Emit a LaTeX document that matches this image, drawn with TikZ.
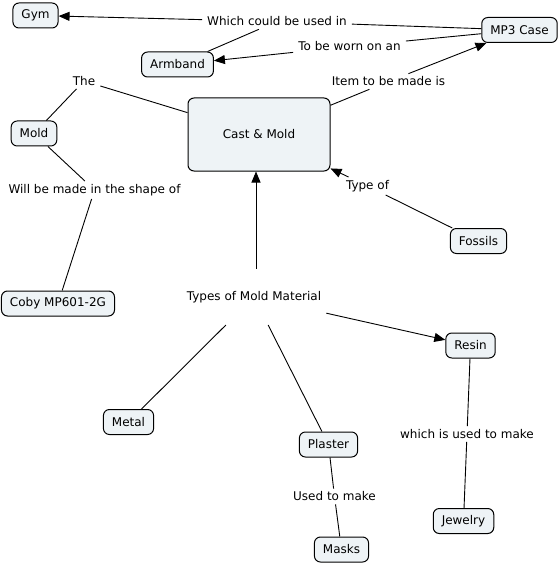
\documentclass[tikz,border=0pt]{standalone}
\usepackage{fontspec}
\setmainfont{DejaVu Sans}
\usetikzlibrary{arrows.meta}
\definecolor{boxfill}{RGB}{238,243,246}
\begin{document}
\begin{tikzpicture}[x=1pt,y=-1pt,
  every node/.style={font=\fontsize{12}{14}\selectfont},
  concept/.style={draw=black,line width=1pt,fill=boxfill,rounded corners=6pt,
    inner xsep=8.5pt,inner ysep=0pt,minimum height=25pt},
  lbl/.style={inner xsep=5pt,inner ysep=3pt},
  con/.style={draw=black,line width=0.9pt},
  arr/.style={con,-{Triangle[length=11pt,width=9pt]}}]
\useasboundingbox (0,0) rectangle (559,564);
% concepts
\node[concept] (gym) at (35.5,15.5) {Gym};
\node[concept] (mp3) at (519.5,30) {MP3 Case};
\node[concept] (armband) at (177.5,64.5) {Armband};
\node[concept,minimum width=142pt,minimum height=73pt] (cast) at (259,134.5) {Cast \& Mold};
\node[concept] (mold) at (34,133.5) {Mold};
\node[concept] (fossils) at (478.5,241) {Fossils};
\node[concept] (coby) at (58,303.5) {Coby MP601-2G};
\node[concept] (resin) at (470.5,345.5) {Resin};
\node[concept] (metal) at (128.5,422) {Metal};
\node[concept] (plaster) at (328.5,444.5) {Plaster};
\node[concept] (jewelry) at (463.5,521) {Jewelry};
\node[concept] (masks) at (341.5,549.5) {Masks};
% linking phrases
\node[lbl] (l1) at (277,21.5) {Which could be used in};
\node[lbl] (l2) at (349.5,46.5) {To be worn on an};
\node[lbl] (l3) at (388.5,81.5) {Item to be made is};
\node[lbl] (l4) at (84,81) {The};
\node[lbl] (l5) at (94.5,190) {Will be made in the shape of};
\node[lbl] (l6) at (367.5,186) {Type of};
\node[lbl,inner ysep=22pt] (l7) at (254,297) {Types of Mold Material};
\node[lbl] (l8) at (467,434) {which is used to make};
\node[lbl] (l9) at (334.5,496.5) {Used to make};
% connectors
\draw[con] (mp3) -- (l1);
\draw[arr] (l1) -- (gym);
\draw[con] (l1) -- (armband);
\draw[con] (mp3) -- (l2);
\draw[arr] (l2) -- (armband);
\draw[con] (cast) -- (l3);
\draw[arr] (l3) -- (mp3);
\draw[con] (cast) -- (l4);
\draw[con] (l4) -- (mold);
\draw[con] (mold) -- (l5);
\draw[con] (l5) -- (coby);
\draw[con] (fossils) -- (l6);
\draw[arr] (l6) -- (cast);
\draw[arr] ([xshift=2pt]l7.north) -- ([xshift=2pt]l7.north |- cast.south);
\draw[arr] (l7) -- (resin);
\draw[con] (l7) -- (metal);
\draw[con] (l7) -- (plaster);
\draw[con] (plaster) -- (l9);
\draw[con] (l9) -- (masks);
\draw[con] (resin) -- (l8);
\draw[con] (l8) -- (jewelry);
\end{tikzpicture}
\end{document}
